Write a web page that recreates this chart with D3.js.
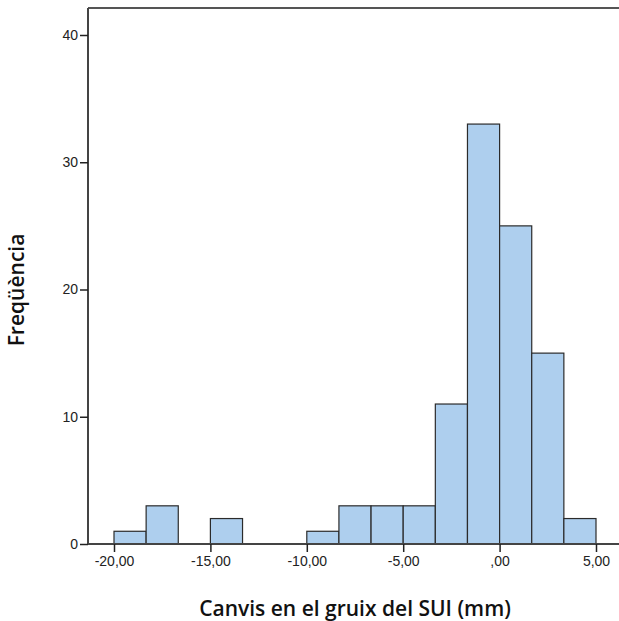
<!DOCTYPE html>
<html>
<head>
<meta charset="utf-8">
<script src="https://cdn.jsdelivr.net/npm/d3@7"></script>
<style>
  body { margin: 0; background: #fff; }
  .tick text { font-family: "Liberation Sans", Arial, sans-serif; font-size: 14px; fill: #222; }
  .axisTitle { font-family: "Open Sans", sans-serif; font-weight: 600; font-size: 21px; fill: #111; }
</style>
</head>
<body>
<div id="grafic"></div>
<script>
// dades de l'histograma: límits dels intervals i freqüències
var binStart = -20, binEnd = 5, binCount = 15;
var frequencies = [1, 3, 0, 2, 0, 0, 1, 3, 3, 3, 11, 33, 25, 15, 2];
var xTicks = [-20, -15, -10, -5, 0, 5];
var yTicks = [0, 10, 20, 30, 40];
var xTitle = 'Canvis en el gruix del SUI (mm)';
var yTitle = 'Freqüència';

var width = 619, height = 621;
var svg = d3.select('#grafic').append('svg').attr('width', width).attr('height', height);

// escales
var x = d3.scaleLinear().domain([binStart, binEnd]).range([114, 596]);
var y = d3.scaleLinear().domain([0, 40]).range([544, 35]);
var plotLeft = 88, plotTop = 8, plotBottom = 544;

var binWidth = (binEnd - binStart) / binCount;
var bins = frequencies.map((f, i) => ({x0: binStart + i * binWidth, x1: binStart + (i + 1) * binWidth, n: f}));

// barres
svg.append('g').selectAll('rect')
    .data(bins.filter(d => d.n > 0))
    .enter()
    .append('rect')
    .attr('x', d => x(d.x0))
    .attr('y', d => y(d.n))
    .attr('width', d => x(d.x1) - x(d.x0))
    .attr('height', d => y(0) - y(d.n))
    .attr('fill', '#aecfee')
    .attr('stroke', '#2b2b2b')
    .attr('stroke-width', 1.2);

// marc: línia superior
svg.append('line').attr('x1', plotLeft).attr('x2', width).attr('y1', plotTop).attr('y2', plotTop)
    .attr('stroke', '#555').attr('stroke-width', 2);

// eix Y
var yAxis = svg.append('g').attr('transform', `translate(${plotLeft},0)`)
    .call(d3.axisLeft(y).tickValues(yTicks).tickSize(8).tickPadding(2).tickFormat(d3.format('d')));
yAxis.select('.domain').attr('d', `M0,${plotTop}V${plotBottom}`).attr('stroke', '#444').attr('stroke-width', 2);
yAxis.selectAll('.tick line').attr('stroke', '#222').attr('stroke-width', 1.5);

// eix X
var fmtX = d => d === 0 ? ',00' : d3.format('.2f')(d).replace('.', ',').replace('−', '-');
var xAxis = svg.append('g').attr('transform', `translate(0,${plotBottom})`)
    .call(d3.axisBottom(x).tickValues(xTicks).tickSize(8).tickPadding(4).tickFormat(fmtX));
xAxis.select('.domain').attr('d', `M${plotLeft},0H${width}`).attr('stroke', '#444').attr('stroke-width', 2);
xAxis.selectAll('.tick line').attr('stroke', '#222').attr('stroke-width', 1.5);

// títols
svg.append('text').attr('class', 'axisTitle')
    .attr('x', 355).attr('y', 616).attr('text-anchor', 'middle').text(xTitle);
svg.append('text').attr('class', 'axisTitle')
    .attr('transform', 'translate(24,290) rotate(-90)').attr('text-anchor', 'middle').text(yTitle);
</script>
</body>
</html>
